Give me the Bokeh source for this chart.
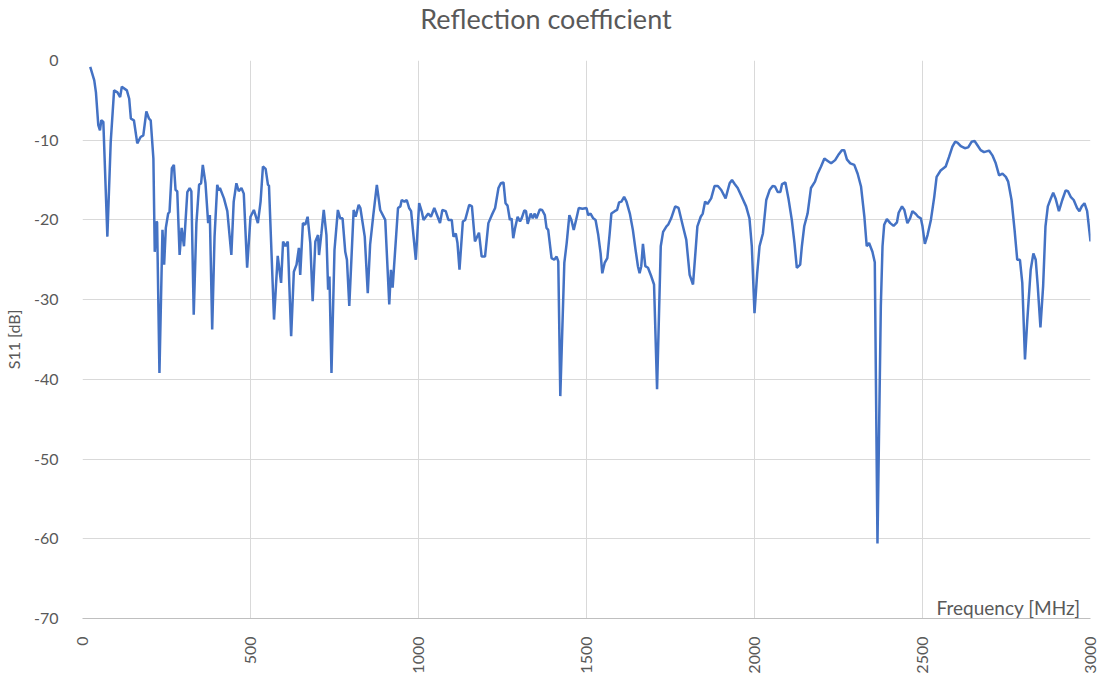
import math
from bokeh.plotting import figure
from bokeh.models import Range1d, FixedTicker, Label, Div
from bokeh.layouts import column
from bokeh.embed import file_html
from bokeh.resources import INLINE

freq = [23, 35, 40, 47, 52, 56, 62, 74, 84, 94, 104, 112, 117, 132, 139, 144, 153, 163, 173, 181,
        190, 198, 203, 211, 215, 220, 222, 229, 238, 243, 248, 255, 259, 266, 272, 277, 282, 289, 295, 302,
        312, 319, 324, 331, 339, 347, 353, 358, 366, 374, 379, 386, 393, 401, 406, 409, 421, 431, 443, 450,
        458, 465, 473, 480, 490, 500, 510, 522, 530, 537, 545, 552, 555, 570, 581, 591, 597, 604, 611, 621,
        629, 637, 644, 648, 656, 663, 670, 678, 685, 693, 701, 704, 711, 718, 726, 731, 735, 741, 750, 760,
        767, 774, 782, 787, 794, 807, 813, 822, 827, 840, 849, 856, 866, 876, 886, 901, 913, 918, 923, 931,
        939, 946, 950, 958, 965, 972, 978, 992, 1002, 1010, 1015, 1022, 1029, 1037, 1047, 1057, 1064, 1071, 1081, 1089,
        1099, 1104, 1111, 1116, 1122, 1132, 1139, 1151, 1159, 1168, 1180, 1188, 1198, 1208, 1218, 1228, 1238, 1245, 1253, 1259,
        1265, 1272, 1277, 1282, 1287, 1295, 1302, 1307, 1315, 1320, 1325, 1334, 1340, 1346, 1351, 1361, 1368, 1376, 1381, 1386,
        1396, 1404, 1411, 1416, 1422, 1434, 1441, 1449, 1455, 1462, 1469, 1477, 1488, 1500, 1505, 1512, 1520, 1527, 1535, 1542,
        1547, 1554, 1562, 1569, 1574, 1584, 1591, 1597, 1604, 1612, 1619, 1629, 1638, 1646, 1653, 1658, 1663, 1668, 1675, 1683,
        1693, 1701, 1710, 1721, 1728, 1738, 1743, 1752, 1764, 1774, 1787, 1797, 1807, 1817, 1824, 1830, 1840, 1846, 1853, 1860,
        1871, 1881, 1891, 1901, 1914, 1926, 1933, 1941, 1950, 1962, 1975, 1985, 1992, 2000, 2008, 2015, 2025, 2035, 2045, 2054,
        2061, 2069, 2077, 2082, 2092, 2101, 2111, 2119, 2126, 2136, 2141, 2148, 2158, 2168, 2180, 2188, 2198, 2208, 2218, 2228,
        2240, 2251, 2260, 2267, 2275, 2285, 2297, 2307, 2317, 2327, 2334, 2341, 2351, 2358, 2366, 2376, 2381, 2386, 2394, 2404,
        2414, 2424, 2429, 2439, 2446, 2455, 2463, 2470, 2480, 2487, 2495, 2500, 2507, 2515, 2525, 2535, 2542, 2554, 2569, 2579,
        2589, 2597, 2604, 2614, 2626, 2636, 2646, 2655, 2663, 2673, 2683, 2698, 2708, 2718, 2728, 2738, 2748, 2755, 2765, 2774,
        2782, 2790, 2797, 2805, 2812, 2822, 2830, 2837, 2843, 2851, 2859, 2866, 2873, 2881, 2889, 2896, 2906, 2916, 2926, 2933,
        2941, 2950, 2960, 2967, 2974, 2982, 2990, 3000]

s11 = [-0.8, -2.5, -4.0, -8.1, -8.75, -7.5, -7.7, -22.1, -10.2, -3.75, -4.0, -4.6, -3.3, -3.75, -4.8, -7.3, -7.5, -10.4, -9.6, -9.4,
       -6.4, -7.3, -7.5, -12.3, -24.0, -20.2, -20.3, -39.2, -21.25, -25.6, -21.0, -19.2, -19.0, -13.5, -13.1, -16.25, -16.4, -24.4, -21.0, -23.3,
       -16.5, -16.0, -16.4, -31.9, -20.4, -15.6, -15.4, -13.1, -15.4, -20.4, -19.4, -33.75, -22.1, -15.6, -16.3, -16.0, -17.3, -18.9, -24.4, -17.7,
       -15.4, -16.4, -16.0, -16.7, -26.0, -19.6, -18.75, -20.4, -17.7, -13.3, -13.6, -15.6, -15.7, -32.5, -24.5, -27.9, -22.7, -23.3, -22.7, -34.6,
       -26.5, -25.6, -23.5, -26.9, -20.4, -20.6, -19.6, -22.9, -30.2, -22.7, -21.9, -24.4, -21.7, -18.75, -21.9, -28.75, -27.1, -39.2, -23.75, -18.75,
       -19.8, -19.8, -24.0, -25.0, -30.8, -18.75, -19.6, -18.1, -18.5, -22.1, -29.2, -23.1, -19.2, -15.6, -18.75, -20.0, -30.6, -26.25, -28.5, -23.5,
       -18.5, -18.3, -17.5, -17.7, -17.5, -18.5, -18.9, -25.0, -17.9, -19.0, -20.0, -19.6, -19.2, -19.6, -18.5, -19.6, -20.4, -18.75, -18.9, -20.0,
       -20.0, -22.1, -21.7, -22.9, -26.25, -20.2, -20.0, -18.1, -18.3, -22.7, -21.6, -24.6, -24.6, -20.4, -19.4, -18.5, -16.0, -15.4, -15.3, -17.9,
       -18.2, -20.0, -19.8, -22.3, -21.1, -19.6, -20.2, -19.8, -18.8, -18.9, -20.5, -19.2, -19.8, -19.2, -19.8, -18.7, -18.75, -19.4, -21.0, -21.25,
       -24.8, -25.0, -24.6, -25.2, -42.1, -25.4, -22.9, -19.4, -20.0, -21.25, -20.0, -18.5, -18.6, -18.5, -19.4, -19.2, -19.8, -20.0, -21.9, -24.2,
       -26.7, -25.4, -24.8, -21.7, -19.2, -18.9, -18.75, -17.8, -17.7, -17.1, -17.7, -19.2, -21.25, -23.75, -25.8, -26.7, -25.8, -23.0, -25.8, -26.0,
       -27.1, -28.1, -41.25, -23.3, -21.5, -20.8, -20.6, -19.8, -18.3, -18.5, -20.8, -22.5, -26.9, -28.1, -24.2, -20.8, -19.6, -19.2, -17.7, -18.0,
       -17.3, -15.75, -15.75, -16.25, -17.3, -15.4, -15.0, -15.5, -16.0, -17.1, -18.3, -19.8, -23.3, -31.7, -26.7, -23.3, -21.7, -17.5, -16.25, -15.75,
       -15.8, -16.5, -16.5, -15.5, -15.3, -17.3, -20.0, -22.9, -26.0, -25.6, -23.3, -20.8, -19.2, -16.0, -15.2, -14.2, -13.3, -12.3, -12.6, -12.9,
       -12.5, -11.75, -11.25, -11.25, -12.4, -12.9, -13.1, -14.2, -15.8, -19.6, -23.3, -22.9, -24.0, -25.3, -60.6, -30.8, -23.3, -20.6, -19.9, -20.4,
       -20.75, -20.3, -19.1, -18.3, -18.75, -20.4, -19.8, -18.9, -19.25, -19.6, -19.8, -20.8, -23.0, -21.9, -20.0, -17.1, -14.6, -13.8, -13.3, -12.1,
       -10.8, -10.2, -10.3, -10.75, -11.0, -10.9, -10.2, -10.1, -10.6, -11.25, -11.5, -11.3, -11.9, -12.9, -14.4, -14.2, -14.6, -15.2, -17.5, -21.25,
       -25.0, -25.0, -27.9, -37.5, -32.5, -26.25, -24.2, -25.0, -28.3, -33.5, -28.3, -20.8, -18.3, -17.4, -16.6, -17.3, -18.9, -17.5, -16.3, -16.4,
       -17.1, -17.5, -18.5, -18.9, -18.3, -17.9, -18.9, -22.7]

x_ticks = [0, 500, 1000, 1500, 2000, 2500, 3000]
y_ticks = [0, -10, -20, -30, -40, -50, -60, -70]
y_tick_labels = ["0", "-10", "-20", "-30", "-40", "-50", "-60", "-70"]

title_text = "Reflection coefficient"
y_label = "S11 [dB]"
x_label = "Frequency [MHz]"

FONT = "Lato"
GRAY = "#595959"

title = Div(text=title_text, render_as_text=True, width=1092, height=40,
            styles={"text-align": "center", "font-size": "27px", "color": GRAY,
                    "font-family": "Lato", "line-height": "38px", "margin": "0", "padding": "0"})

p = figure(width=1100, height=636, output_backend="svg", toolbar_location=None,
           x_range=Range1d(0, 3000), y_range=Range1d(-70, 0),
           min_border_left=80, min_border_right=10, min_border_top=20, min_border_bottom=56)
p.outline_line_color = None
p.background_fill_color = "white"

p.line(freq, s11, line_color="#4472C4", line_width=2.5)

p.xaxis.ticker = FixedTicker(ticks=x_ticks)
p.yaxis.ticker = FixedTicker(ticks=y_ticks)
p.yaxis.major_label_overrides = {t: l for t, l in zip(y_ticks, y_tick_labels)}
p.xaxis.major_label_orientation = math.pi / 2

for ax in (p.xaxis[0], p.yaxis[0]):
    ax.major_tick_line_color = None
    ax.minor_tick_line_color = None
    ax.major_label_text_font = FONT
    ax.major_label_text_font_size = "16px"
    ax.major_label_text_color = GRAY
p.xaxis.axis_line_color = "#bfbfbf"
p.yaxis.axis_line_color = None
p.xaxis.major_label_standoff = 12
p.yaxis.major_label_standoff = 18

p.yaxis.axis_label = y_label
p.yaxis.axis_label_text_font = FONT
p.yaxis.axis_label_text_font_size = "16px"
p.yaxis.axis_label_text_font_style = "normal"
p.yaxis.axis_label_text_color = GRAY
p.yaxis.axis_label_standoff = 8

p.xgrid.ticker = FixedTicker(ticks=x_ticks)
p.ygrid.ticker = FixedTicker(ticks=y_ticks)
p.xgrid.grid_line_color = "#d9d9d9"
p.ygrid.grid_line_color = "#d9d9d9"

p.add_layout(Label(x=2970, y=-68.6, text=x_label, text_align="right", text_baseline="alphabetic",
                   text_font=FONT, text_font_size="19px", text_color=GRAY))

layout = column(title, p, spacing=0)
open("out.html", "w").write(file_html(layout, INLINE))
